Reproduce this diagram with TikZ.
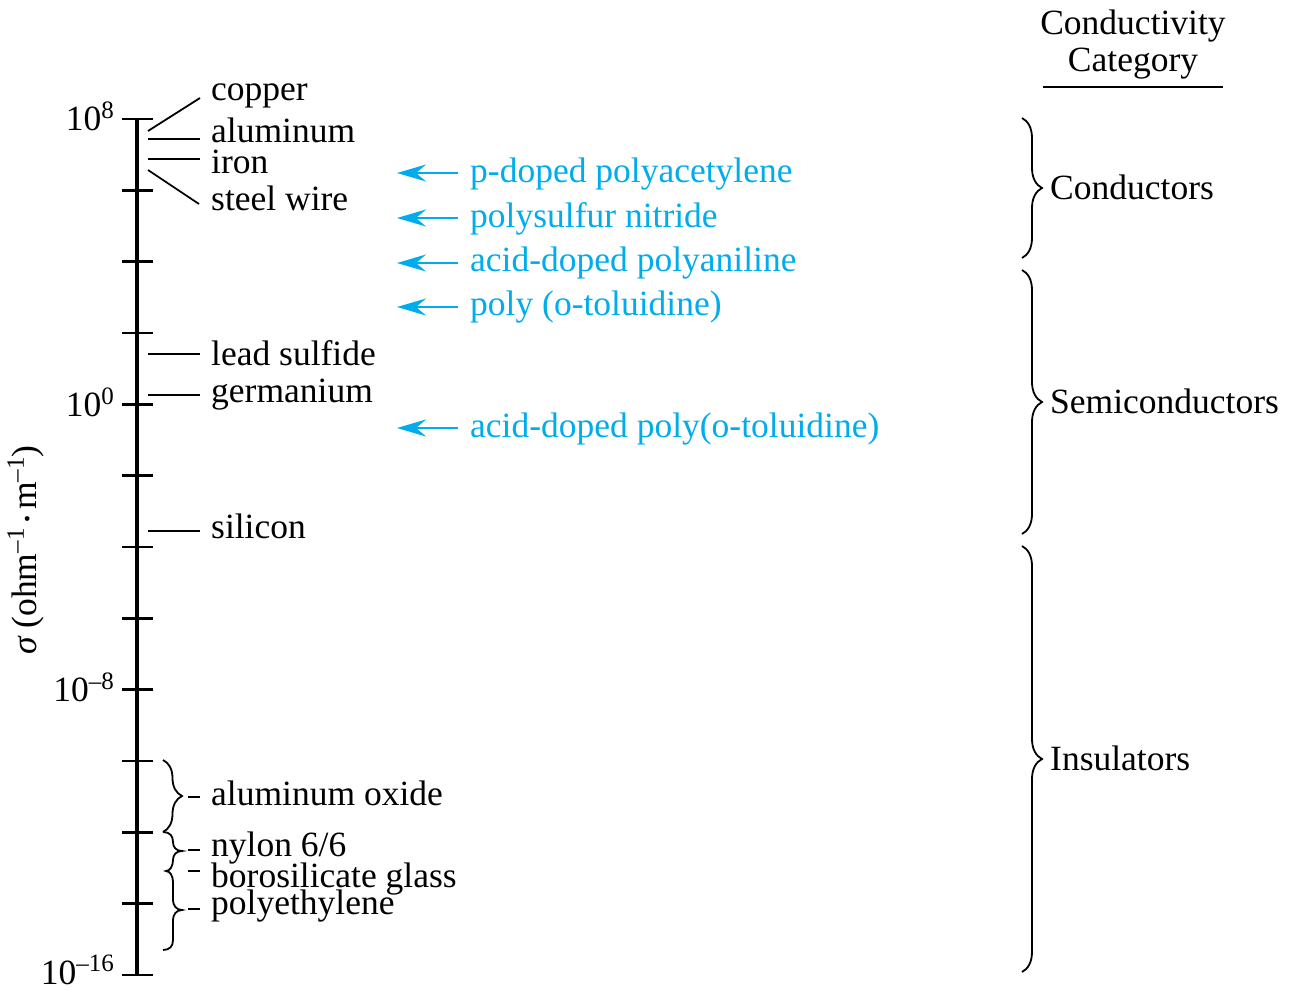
\documentclass[tikz,border=0pt]{standalone}
\usepackage{fontspec}
\setmainfont{Liberation Serif}
\usetikzlibrary{arrows.meta,decorations.pathreplacing}
\definecolor{polyblue}{RGB}{0,172,236}
\newcommand\supx[1]{\raisebox{0.34em}{\fontsize{25}{25}\selectfont #1}}
\begin{document}
\begin{tikzpicture}[x=1pt,y=-1pt,
  lbl/.style={font=\fontsize{35.5}{40}\selectfont, inner sep=0pt, anchor=base west},
  ctr/.style={font=\fontsize{35.5}{40}\selectfont, inner sep=0pt, anchor=base},
  ticklbl/.style={font=\fontsize{35.5}{40}\selectfont, inner sep=0pt, anchor=base east},
  axisline/.style={line width=4pt},
  tickline/.style={line width=2.5pt},
  ptr/.style={line width=1.8pt},
  polyarrow/.style={polyblue, line width=2pt, -{Stealth[length=29pt,width=17pt,inset=10pt]}},
  brc/.style={line width=1.8pt, decorate, decoration={brace, amplitude=#1}},
]
\useasboundingbox (0,0) rectangle (1294,990);

% axis
\coordinate (top) at (137,119);
\coordinate (bot) at (137,975);
\draw[axisline] (top) -- (bot);
\foreach \k in {0,...,12}{
  \coordinate (tl\k) at (122,{119+\k*71.333});
  \coordinate (tr\k) at (153,{119+\k*71.333});
  \draw[tickline] (tl\k) -- (tr\k);
}
\node[ticklbl] (e8)  at (114,131) {10\supx{8}};
\node[ticklbl] (e0)  at (114,416.3) {10\supx{0}};
\node[ticklbl] (em8) at (114,701.7) {10\supx{–8}};
\node[ticklbl] (em16) at (114,984) {10\supx{–16}};

\node[rotate=90, anchor=base, inner sep=0pt, font=\fontsize{35.5}{40}\selectfont] (ylab) at (36,550)
  {{\itshape σ} (ohm\supx{–1}\,\raisebox{2pt}{\fontsize{20}{20}\selectfont •}\,m\supx{–1})};

% metals
\node[lbl] (copper) at (211,100) {copper};
\node[lbl] (alu) at (211,142) {aluminum};
\node[lbl] (iron) at (211,173) {iron};
\node[lbl] (steel) at (211,210) {steel wire};
\coordinate (cu1) at (148,131); \coordinate (cu2) at (200,98);
\coordinate (al1) at (148,139); \coordinate (al2) at (200,139);
\coordinate (fe1) at (148,159); \coordinate (fe2) at (200,159);
\coordinate (st1) at (148,170); \coordinate (st2) at (199,204);
\draw[ptr] (cu1) -- (cu2);
\draw[ptr] (al1) -- (al2);
\draw[ptr] (fe1) -- (fe2);
\draw[ptr] (st1) -- (st2);

\node[lbl] (pbs) at (211,365) {lead sulfide};
\node[lbl] (ge) at (211,402) {germanium};
\node[lbl] (si) at (211,538) {silicon};
\coordinate (pb1) at (148,354); \coordinate (pb2) at (200,354);
\coordinate (ge1) at (148,395); \coordinate (ge2) at (200,395);
\coordinate (si1) at (148,531); \coordinate (si2) at (200,531);
\draw[ptr] (pb1) -- (pb2);
\draw[ptr] (ge1) -- (ge2);
\draw[ptr] (si1) -- (si2);

% insulators on the left
\node[lbl] (alox) at (211,805) {aluminum oxide};
\node[lbl] (nylon) at (211,856) {nylon 6/6};
\node[lbl] (boro) at (211,887) {borosilicate glass};
\node[lbl] (pe) at (211,914) {polyethylene};
\coordinate (bA1) at (163,760); \coordinate (bA2) at (163,832);
\draw[brc=19pt] (bA1) -- (bA2);
\draw[line width=1.8pt] (bA2) .. controls (170,832) and (173,836) .. (173,842)
  .. controls (173,847) and (176,851) .. (182,851)
  .. controls (176,851) and (173,855) .. (173,860)
  .. controls (173,866) and (170,871) .. (166,871)
  .. controls (170,871) and (173,876) .. (173,882)
  -- (173,900)
  .. controls (173,905) and (176,910) .. (182,910)
  .. controls (176,910) and (173,915) .. (173,920)
  -- (173,940)
  .. controls (173,946) and (170,950) .. (163,950);
\coordinate (d1a) at (188,797); \coordinate (d1b) at (200,797);
\coordinate (d2a) at (188,850); \coordinate (d2b) at (200,850);
\coordinate (d3a) at (188,871); \coordinate (d3b) at (200,871);
\coordinate (d4a) at (188,909); \coordinate (d4b) at (200,909);
\draw[ptr] (d1a) -- (d1b);
\draw[ptr] (d2a) -- (d2b);
\draw[ptr] (d3a) -- (d3b);
\draw[ptr] (d4a) -- (d4b);

% polymers
\node[lbl, text=polyblue] (pa) at (470,182) {p-doped polyacetylene};
\node[lbl, text=polyblue] (psn) at (470,227) {polysulfur nitride};
\node[lbl, text=polyblue] (pani) at (470,271) {acid-doped polyaniline};
\node[lbl, text=polyblue] (pot) at (470,315) {poly (o-toluidine)};
\node[lbl, text=polyblue] (apot) at (470,437) {acid-doped poly(o-toluidine)};
\coordinate (a1s) at (458,173); \coordinate (a1e) at (397,173);
\coordinate (a2s) at (458,218); \coordinate (a2e) at (397,218);
\coordinate (a3s) at (458,263); \coordinate (a3e) at (397,263);
\coordinate (a4s) at (458,307); \coordinate (a4e) at (397,307);
\coordinate (a5s) at (458,428); \coordinate (a5e) at (397,428);
\draw[polyarrow] (a1s) -- (a1e);
\draw[polyarrow] (a2s) -- (a2e);
\draw[polyarrow] (a3s) -- (a3e);
\draw[polyarrow] (a4s) -- (a4e);
\draw[polyarrow] (a5s) -- (a5e);

% categories
\node[ctr] (h1) at (1133,35) {Conductivity};
\node[ctr] (h2) at (1133,71) {Category};
\coordinate (r1) at (1043,87); \coordinate (r2) at (1223,87);
\draw[line width=2pt] (r1) -- (r2);

\coordinate (c1) at (1022,118); \coordinate (c2) at (1022,258);
\coordinate (s1) at (1022,270); \coordinate (s2) at (1022,534);
\coordinate (i1) at (1022,546); \coordinate (i2) at (1022,972);
\draw[brc=20pt] (c1) -- (c2);
\draw[brc=20pt] (s1) -- (s2);
\draw[brc=20pt] (i1) -- (i2);
\node[lbl] (cond) at (1050,199) {Conductors};
\node[lbl] (semi) at (1050,413) {Semiconductors};
\node[lbl] (ins) at (1050,770) {Insulators};
\end{tikzpicture}
\end{document}
